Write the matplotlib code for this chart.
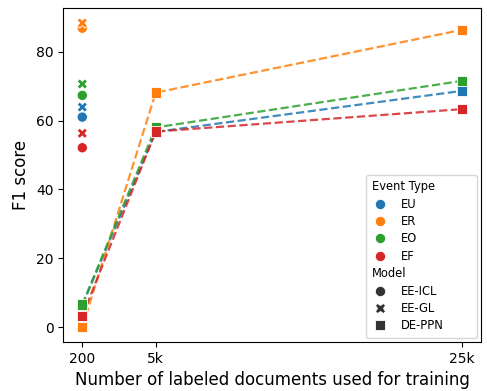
import matplotlib
matplotlib.use("Agg")
import matplotlib.pyplot as plt
import seaborn as sns
import pandas as pd
from matplotlib.offsetbox import HPacker, DrawingArea

event_types = ["EU", "ER", "EO", "EF"]
models = ["EE-ICL", "EE-GL", "DE-PPN"]
x_docs = [200, 5000, 25000]
x_tick_labels = ["200", "5k", "25k"]

ee_icl = {"EU": 61.0, "ER": 86.8, "EO": 67.3, "EF": 52.1}
ee_gl = {"EU": 63.9, "ER": 88.3, "EO": 70.6, "EF": 56.3}
de_ppn = {
    "EU": [6.4, 56.7, 68.6],
    "ER": [0.1, 68.1, 86.3],
    "EO": [6.6, 58.0, 71.5],
    "EF": [3.2, 56.8, 63.3],
}

rows = []
for et in event_types:
    rows.append(dict(x=200, y=ee_icl[et], et=et, model="EE-ICL"))
    rows.append(dict(x=200, y=ee_gl[et], et=et, model="EE-GL"))
    for xv, yv in zip(x_docs, de_ppn[et]):
        rows.append(dict(x=xv, y=yv, et=et, model="DE-PPN"))
df = pd.DataFrame(rows)
df = df.rename(columns={"et": "Event Type", "model": "Model"})

palette = dict(zip(event_types, sns.color_palette("tab10", 4)))

fig, ax = plt.subplots(figsize=(4.87, 3.91), dpi=100)
for et in event_types:
    ax.plot(x_docs, de_ppn[et], linestyle="--", color=palette[et], lw=1.6,
            alpha=0.85)
sns.scatterplot(data=df, x="x", y="y", hue="Event Type", style="Model",
                hue_order=event_types, style_order=models,
                markers={"EE-ICL": "o", "EE-GL": "X", "DE-PPN": "s"},
                palette=palette, s=55, ax=ax, zorder=3)
ax.set_xticks(x_docs)
ax.set_xticklabels(x_tick_labels)
ax.set_xlabel("Number of labeled documents used for training", fontsize=12)
ax.set_ylabel("F1 score", fontsize=12)
ax.tick_params(labelsize=10)
leg = ax.legend(loc="lower right", fontsize=8.3, handletextpad=1.15,
                handlelength=1.4, labelspacing=0.38, borderpad=0.5,
                borderaxespad=0.35)

# left-align subtitle entries, add right-side padding like the reference
def walk(box):
    for ch in getattr(box, "_children", []):
        if isinstance(ch, HPacker) and len(ch._children) == 2:
            h, t = ch._children
            txt = t.get_children()
            s = txt[0].get_text() if txt and hasattr(txt[0], "get_text") else ""
            if s in ("Event Type", "Model"):
                h.width = 0
                ch.sep = 0
                if s == "Event Type":
                    ch._children.append(DrawingArea(26, 0))
        walk(ch)
walk(leg._legend_box)

fig.subplots_adjust(left=0.13, right=0.987, top=0.98, bottom=0.125)
fig.savefig("out.png", dpi=100)
